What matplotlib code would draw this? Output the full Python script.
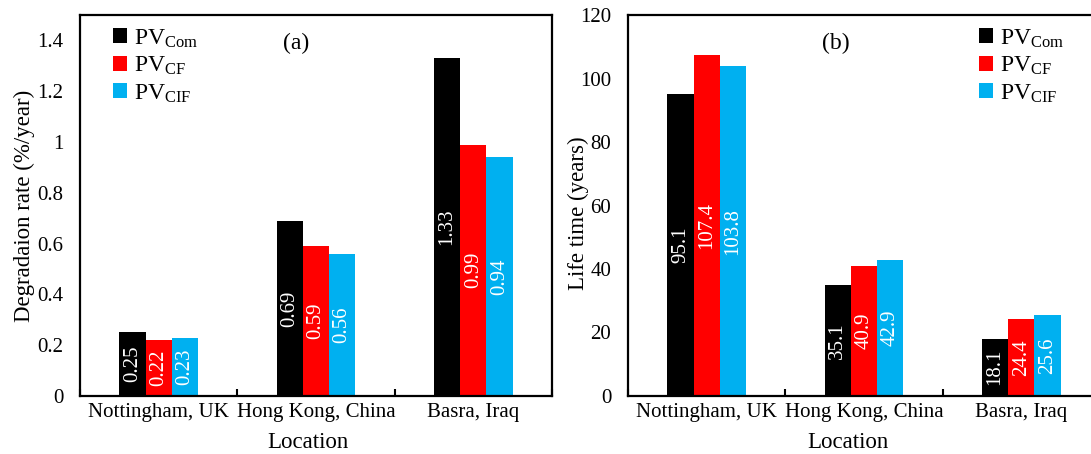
import matplotlib

matplotlib.use("Agg")
import matplotlib.pyplot as plt
import numpy as np
from matplotlib.ticker import FixedLocator, FuncFormatter

plt.rcParams["font.family"] = ["Liberation Serif", "DejaVu Serif"]
plt.rcParams["mathtext.fontset"] = "custom"
plt.rcParams["mathtext.rm"] = "Liberation Serif"
plt.rcParams["mathtext.it"] = "Liberation Serif:italic"

locations = ["Nottingham, UK", "Hong Kong, China", "Basra, Iraq"]
series = [r"PV$_{\mathrm{Com}}$", r"PV$_{\mathrm{CF}}$", r"PV$_{\mathrm{CIF}}$"]
colors = ["#000000", "#FF0000", "#00B0F0"]

# degradation rate, %/year
deg_com = [0.25, 0.69, 1.33]
deg_cf = [0.22, 0.59, 0.99]
deg_cif = [0.23, 0.56, 0.94]

# life time, years
life_com = [95.1, 35.1, 18.1]
life_cf = [107.4, 40.9, 24.4]
life_cif = [103.8, 42.9, 25.6]


def grouped_bars(ax, groups, ymax, ylabel, tag, legend_x, ylabel_xy, xlabel_x):
    x = np.arange(len(locations)) + 0.5
    w = 1 / 6
    for i, (vals, name, c) in enumerate(zip(groups, series, colors)):
        bars = ax.bar(x + (i - 1) * w, vals, w, color=c, label=name)
        ax.bar_label(bars, labels=[f"{v:g}" for v in vals], label_type="center",
                     rotation=90, color="white", fontsize=15)

    ax.set_xlim(0, len(locations))
    ax.set_ylim(0, ymax)
    ax.xaxis.set_major_locator(FixedLocator(x))
    ax.set_xticklabels(locations)
    ax.xaxis.set_minor_locator(FixedLocator(np.arange(len(locations) + 1)))
    ax.tick_params(axis="x", which="major", length=0, pad=5, labelsize=15)
    ax.tick_params(axis="x", which="minor", direction="in", length=5, width=1.5)
    ax.tick_params(axis="y", length=0, pad=12, labelsize=15)
    ax.yaxis.set_major_formatter(FuncFormatter(lambda v, _: f"{v:g}"))

    for s in ax.spines.values():
        s.set_linewidth(1.6)

    ax.set_ylabel(ylabel, fontsize=16.5)
    ax.yaxis.set_label_coords(*ylabel_xy)
    ax.set_xlabel("Location", fontsize=16.5)
    ax.xaxis.set_label_coords(xlabel_x, -0.095)

    ax.text(tag[0], tag[1], tag[2], transform=ax.transAxes, ha="center",
            va="center", fontsize=17)
    ax.legend(loc="upper left", bbox_to_anchor=(legend_x, 0.968), frameon=False,
              fontsize=17, handlelength=0.6, handleheight=0.6, handletextpad=0.3,
              labelspacing=0.22, borderpad=0, borderaxespad=0)


fig = plt.figure(figsize=(10.91, 4.54), dpi=100)
bottom, height = 0.1278, 0.839
ax1 = fig.add_axes([0.0733, bottom, 0.4326, height])
ax2 = fig.add_axes([0.5756, bottom, 0.4326, height])

grouped_bars(ax1, [deg_com, deg_cf, deg_cif], 1.5, "Degradaion rate (%/year)",
             (0.459, 0.926, "(a)"), 0.07, (-0.095, 0.5), 0.483)
ax1.set_yticks(np.arange(0, 1.41, 0.2))

grouped_bars(ax2, [life_com, life_cf, life_cif], 120, "Life time (years)",
             (0.44, 0.926, "(b)"), 0.743, (-0.083, 0.48), 0.465)
ax2.set_yticks(np.arange(0, 121, 20))

fig.savefig("out.png", dpi=100)
